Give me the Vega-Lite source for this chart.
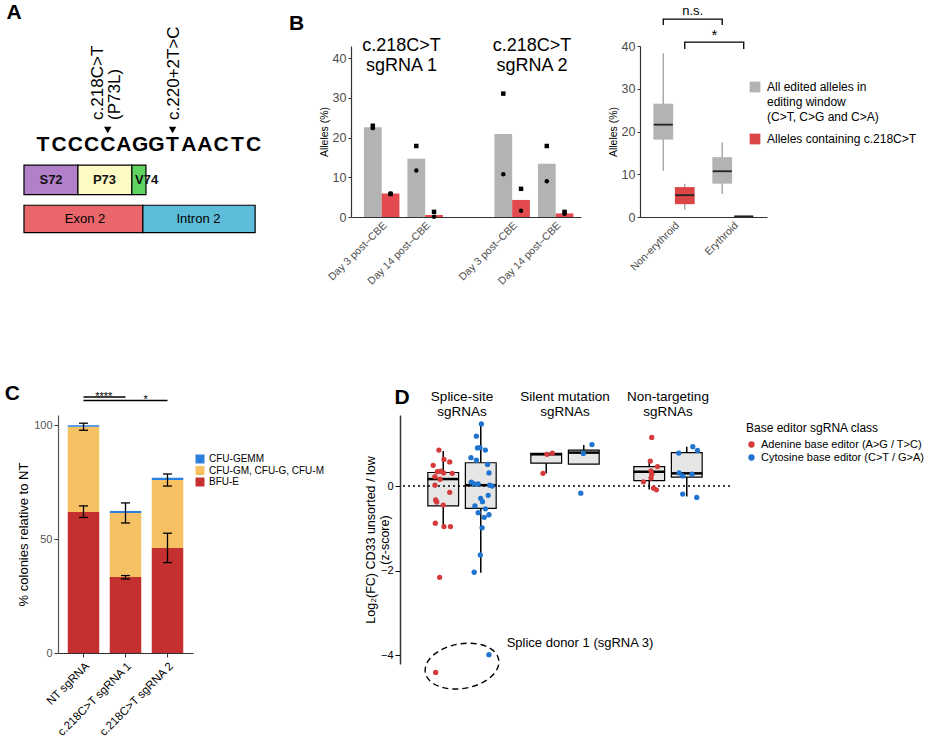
{
  "$schema": "https://vega.github.io/schema/vega-lite/v6.json",
  "background": "white",
  "padding": {"left": 4, "top": 2, "right": 0, "bottom": 0},
  "config": {
    "font": "Liberation Sans",
    "view": {"stroke": null},
    "title": {"fontSize": 21, "fontWeight": "bold", "anchor": "start", "color": "black", "frame": "bounds"},
    "axis": {"grid": false}
  },
  "spacing": 96,
  "resolve": {
    "scale": {"color": "independent", "fill": "independent", "stroke": "independent", "shape": "independent", "xOffset": "independent", "x": "independent", "y": "independent"},
    "legend": {"color": "independent", "fill": "independent", "stroke": "independent", "shape": "independent"}
  },
  "vconcat": [
    {
      "spacing": 27,
      "resolve": {
        "scale": {"color": "independent", "fill": "independent", "stroke": "independent", "shape": "independent", "xOffset": "independent", "x": "independent", "y": "independent"},
        "legend": {"color": "independent", "fill": "independent", "stroke": "independent", "shape": "independent"}
      },
      "hconcat": [
        {
          "title": {"text": "A", "dx": -17, "offset": 3},
          "width": 202,
          "height": 192,
          "layer": [
            {
              "data": {"values": [
                {"element": "Exon 2", "start": -0.17, "end": 7.17, "labelPos": 3.6},
                {"element": "Intron 2", "start": 7.17, "end": 14.1, "labelPos": 10.6}
              ]},
              "layer": [
                {
                  "mark": {"type": "rect", "stroke": "black", "strokeWidth": 1.2},
                  "encoding": {
                    "x": {"field": "start", "type": "quantitative", "scale": {"domain": [1.93, 14.4], "nice": false, "zero": false}, "axis": null},
                    "x2": {"field": "end"},
                    "y": {"datum": 0, "type": "quantitative", "scale": {"domain": [-0.2, 6.84], "nice": false, "zero": false}, "axis": null},
                    "y2": {"datum": 1},
                    "fill": {"field": "element", "type": "nominal", "scale": {"domain": ["S72", "P73", "V74", "Exon 2", "Intron 2"], "range": ["#b27fc9", "#fdfbc3", "#5fd35f", "#e9676b", "#5dbdd8"]}, "legend": null}
                  }
                },
                {
                  "mark": {"type": "text", "fontSize": 13, "color": "black"},
                  "encoding": {
                    "x": {"field": "labelPos", "type": "quantitative"},
                    "y": {"datum": 0.5, "type": "quantitative"},
                    "text": {"field": "element"}
                  }
                }
              ]
            },
            {
              "data": {"values": [
                {"element": "S72", "start": -0.17, "end": 3.16, "labelPos": 1.5},
                {"element": "P73", "start": 3.16, "end": 6.49, "labelPos": 4.8},
                {"element": "V74", "start": 6.49, "end": 7.36, "labelPos": 7.4}
              ]},
              "layer": [
                {
                  "mark": {"type": "rect", "stroke": "black", "strokeWidth": 1.2},
                  "encoding": {
                    "x": {"field": "start", "type": "quantitative"},
                    "x2": {"field": "end"},
                    "y": {"datum": 1.39, "type": "quantitative"},
                    "y2": {"datum": 2.47},
                    "fill": {"field": "element", "type": "nominal", "legend": null}
                  }
                },
                {
                  "mark": {"type": "text", "fontSize": 13, "fontWeight": "bold", "color": "#111111"},
                  "encoding": {
                    "x": {"field": "labelPos", "type": "quantitative"},
                    "y": {"datum": 1.93, "type": "quantitative"},
                    "text": {"field": "element"}
                  }
                }
              ]
            },
            {
              "data": {"values": [
                {"pos": 1, "base": "T"}, {"pos": 2, "base": "C"}, {"pos": 3, "base": "C"}, {"pos": 4, "base": "C"},
                {"pos": 5, "base": "C"}, {"pos": 6, "base": "A"}, {"pos": 7, "base": "G"}, {"pos": 8, "base": "G"},
                {"pos": 9, "base": "T"}, {"pos": 10, "base": "A"}, {"pos": 11, "base": "A"}, {"pos": 12, "base": "C"},
                {"pos": 13, "base": "T"}, {"pos": 14, "base": "C"}
              ]},
              "mark": {"type": "text", "fontSize": 21, "fontWeight": "bold", "color": "black"},
              "encoding": {
                "x": {"field": "pos", "type": "quantitative"},
                "y": {"datum": 3.21, "type": "quantitative"},
                "text": {"field": "base"}
              }
            },
            {
              "data": {"values": [{"pos": 5, "site": "c.218"}, {"pos": 9, "site": "c.220+2"}]},
              "mark": {"type": "point", "shape": "triangle-down", "filled": true, "color": "black", "size": 55, "opacity": 1},
              "encoding": {
                "x": {"field": "pos", "type": "quantitative"},
                "y": {"datum": 3.76, "type": "quantitative"}
              }
            },
            {
              "data": {"values": [
                {"labelPos": 4.4, "variant": "c.218C>T"},
                {"labelPos": 5.45, "variant": "(P73L)"},
                {"labelPos": 9.1, "variant": "c.220+2T>C"}
              ]},
              "mark": {"type": "text", "fontSize": 17, "angle": 270, "align": "left", "baseline": "middle", "color": "black"},
              "encoding": {
                "x": {"field": "labelPos", "type": "quantitative"},
                "y": {"datum": 4.13, "type": "quantitative"},
                "text": {"field": "variant"}
              }
            }
          ]
        },
        {
          "title": {"text": "B", "dx": -30, "offset": 3},
          "width": 230,
          "height": 171,
          "layer": [
            {
              "data": {"values": [
                {"sample": "sg1 Day 3", "type": "All edited alleles in editing window (C>T, C>G and C>A)", "value": 22.6},
                {"sample": "sg1 Day 3", "type": "Alleles containing c.218C>T", "value": 5.9},
                {"sample": "sg1 Day 14", "type": "All edited alleles in editing window (C>T, C>G and C>A)", "value": 14.7},
                {"sample": "sg1 Day 14", "type": "Alleles containing c.218C>T", "value": 0.5},
                {"sample": "sg2 Day 3", "type": "All edited alleles in editing window (C>T, C>G and C>A)", "value": 20.9},
                {"sample": "sg2 Day 3", "type": "Alleles containing c.218C>T", "value": 4.3},
                {"sample": "sg2 Day 14", "type": "All edited alleles in editing window (C>T, C>G and C>A)", "value": 13.4},
                {"sample": "sg2 Day 14", "type": "Alleles containing c.218C>T", "value": 0.9}
              ]},
              "mark": {"type": "bar"},
              "encoding": {
                "x": {
                  "field": "sample", "type": "nominal",
                  "scale": {"domain": ["sg1 Day 3", "sg1 Day 14", "gap", "sg2 Day 3", "sg2 Day 14"], "paddingInner": 0.184, "paddingOuter": 0.236, "align": 0.63},
                  "axis": {"title": null, "ticks": false, "labelAngle": -45, "labelFontSize": 10.5, "labelColor": "#4d4d4d", "labelPadding": 3, "domainColor": "#333333", "domainWidth": 1.2, "labelExpr": "datum.value == 'gap' ? '' : slice(datum.value, 4) + ' post–CBE'"}
                },
                "xOffset": {"field": "type", "type": "nominal", "scale": {"domain": ["All edited alleles in editing window (C>T, C>G and C>A)", "Alleles containing c.218C>T"], "paddingInner": 0, "paddingOuter": 0}},
                "y": {
                  "field": "value", "type": "quantitative", "scale": {"domain": [0, 43.1], "nice": false},
                  "axis": {"values": [0, 10, 20, 30, 40], "title": "Alleles (%)", "titleFontSize": 10.5, "titleFontWeight": "normal", "titleColor": "black", "labelFontSize": 12.5, "labelColor": "#4d4d4d", "tickSize": 3, "tickColor": "#333333", "domainColor": "#333333", "domainWidth": 1.2, "titlePadding": 3, "labelPadding": 2}
                },
                "color": {"field": "type", "type": "nominal", "scale": {"domain": ["All edited alleles in editing window (C>T, C>G and C>A)", "Alleles containing c.218C>T"], "range": ["#b3b3b3", "#e24a4f"]}, "legend": null}
              }
            },
            {
              "data": {"values": [
                {"sample": "sg1 Day 3", "type": "All edited alleles in editing window (C>T, C>G and C>A)", "donor": "Donor 1", "value": 23.0},
                {"sample": "sg1 Day 3", "type": "All edited alleles in editing window (C>T, C>G and C>A)", "donor": "Donor 2", "value": 22.4},
                {"sample": "sg1 Day 3", "type": "Alleles containing c.218C>T", "donor": "Donor 1", "value": 5.8},
                {"sample": "sg1 Day 3", "type": "Alleles containing c.218C>T", "donor": "Donor 2", "value": 5.9},
                {"sample": "sg1 Day 14", "type": "All edited alleles in editing window (C>T, C>G and C>A)", "donor": "Donor 1", "value": 17.9},
                {"sample": "sg1 Day 14", "type": "All edited alleles in editing window (C>T, C>G and C>A)", "donor": "Donor 2", "value": 11.7},
                {"sample": "sg1 Day 14", "type": "Alleles containing c.218C>T", "donor": "Donor 1", "value": 1.3},
                {"sample": "sg1 Day 14", "type": "Alleles containing c.218C>T", "donor": "Donor 2", "value": 0.05},
                {"sample": "sg2 Day 3", "type": "All edited alleles in editing window (C>T, C>G and C>A)", "donor": "Donor 1", "value": 31.1},
                {"sample": "sg2 Day 3", "type": "All edited alleles in editing window (C>T, C>G and C>A)", "donor": "Donor 2", "value": 10.8},
                {"sample": "sg2 Day 3", "type": "Alleles containing c.218C>T", "donor": "Donor 1", "value": 7.1},
                {"sample": "sg2 Day 3", "type": "Alleles containing c.218C>T", "donor": "Donor 2", "value": 1.6},
                {"sample": "sg2 Day 14", "type": "All edited alleles in editing window (C>T, C>G and C>A)", "donor": "Donor 1", "value": 17.9},
                {"sample": "sg2 Day 14", "type": "All edited alleles in editing window (C>T, C>G and C>A)", "donor": "Donor 2", "value": 9.0},
                {"sample": "sg2 Day 14", "type": "Alleles containing c.218C>T", "donor": "Donor 1", "value": 1.3},
                {"sample": "sg2 Day 14", "type": "Alleles containing c.218C>T", "donor": "Donor 2", "value": 0.8}
              ]},
              "mark": {"type": "point", "filled": true, "color": "black", "size": 20, "opacity": 1},
              "encoding": {
                "x": {"field": "sample", "type": "nominal"},
                "xOffset": {"field": "type", "type": "nominal"},
                "y": {"field": "value", "type": "quantitative"},
                "shape": {"field": "donor", "type": "nominal", "scale": {"domain": ["Donor 1", "Donor 2"], "range": ["square", "circle"]}, "legend": null}
              }
            },
            {
              "data": {"values": [
                {"sample": "sg1 Day 14", "label": "c.218C>T\nsgRNA 1"},
                {"sample": "sg2 Day 14", "label": "c.218C>T\nsgRNA 2"}
              ]},
              "mark": {"type": "text", "fontSize": 18, "lineBreak": "\n", "lineHeight": 20, "baseline": "middle", "align": "center", "dx": -6, "color": "black"},
              "encoding": {
                "x": {"field": "sample", "type": "nominal", "bandPosition": 0},
                "y": {"datum": 43.2, "type": "quantitative"},
                "text": {"field": "label"}
              }
            }
          ]
        },
        {
          "width": 127,
          "height": 171,
          "layer": [
            {
              "data": {"values": [
                {"group": "Non-erythroid", "type": "All edited alleles in editing window (C>T, C>G and C>A)", "min": 10.8, "q1": 18.1, "median": 21.6, "q3": 26.5, "max": 38.3},
                {"group": "Non-erythroid", "type": "Alleles containing c.218C>T", "min": 1.7, "q1": 3.0, "median": 5.1, "q3": 7.0, "max": 7.8},
                {"group": "Erythroid", "type": "All edited alleles in editing window (C>T, C>G and C>A)", "min": 5.4, "q1": 7.8, "median": 10.7, "q3": 14.0, "max": 17.4},
                {"group": "Erythroid", "type": "Alleles containing c.218C>T", "min": 0.05, "q1": 0.1, "median": 0.15, "q3": 0.25, "max": 0.3}
              ]},
              "layer": [
                {
                  "mark": {"type": "rule", "strokeWidth": 1.5, "color": "#a9a9a9"},
                  "encoding": {
                    "x": {
                      "field": "group", "type": "nominal",
                      "scale": {"domain": ["Non-erythroid", "Erythroid"], "paddingInner": 0.3, "paddingOuter": 0.227},
                      "axis": {"title": null, "ticks": false, "labelAngle": -45, "labelFontSize": 10.5, "labelColor": "#4d4d4d", "labelPadding": 3, "domainColor": "#333333", "domainWidth": 1.2}
                    },
                    "xOffset": {"field": "type", "type": "nominal", "scale": {"domain": ["All edited alleles in editing window (C>T, C>G and C>A)", "Alleles containing c.218C>T"], "paddingInner": 0.08, "paddingOuter": 0}},
                    "y": {
                      "field": "min", "type": "quantitative", "scale": {"domain": [0, 40], "nice": false},
                      "axis": {"values": [0, 10, 20, 30, 40], "title": "Alleles (%)", "titleFontSize": 10.5, "titleFontWeight": "normal", "titleColor": "black", "labelFontSize": 12.5, "labelColor": "#4d4d4d", "tickSize": 3, "tickColor": "#333333", "domainColor": "#333333", "domainWidth": 1.2, "titlePadding": 3, "labelPadding": 2}
                    },
                    "y2": {"field": "max"}
                  }
                },
                {
                  "mark": {"type": "bar"},
                  "encoding": {
                    "x": {"field": "group", "type": "nominal"},
                    "xOffset": {"field": "type", "type": "nominal"},
                    "y": {"field": "q1", "type": "quantitative"},
                    "y2": {"field": "q3"},
                    "fill": {
                      "field": "type", "type": "nominal",
                      "scale": {"domain": ["All edited alleles in editing window (C>T, C>G and C>A)", "Alleles containing c.218C>T"], "range": ["#b3b3b3", "#dc4545"]},
                      "legend": {
                        "title": null, "orient": "none", "legendX": 109, "legendY": 35,
                        "symbolType": "square", "symbolSize": 115, "symbolStrokeWidth": 0,
                        "labelFontSize": 12, "labelColor": "black", "labelLimit": 400, "labelBaseline": "middle", "labelOffset": 6, "rowPadding": 10,
                        "labelExpr": "datum.label == 'Alleles containing c.218C>T' ? datum.label : ['All edited alleles in', 'editing window', '(C>T, C>G and C>A)']",
                        "encode": {"labels": {"update": {"lineHeight": {"value": 15}}}}
                      }
                    }
                  }
                },
                {
                  "mark": {"type": "tick", "color": "#222222", "thickness": 1.8, "size": 19, "opacity": 1},
                  "encoding": {
                    "x": {"field": "group", "type": "nominal"},
                    "xOffset": {"field": "type", "type": "nominal"},
                    "y": {"field": "median", "type": "quantitative"}
                  }
                }
              ]
            },
            {
              "data": {"values": [
                {"bracket": "ns", "group": "Non-erythroid", "type": "All edited alleles in editing window (C>T, C>G and C>A)", "level": 44.9, "step": 1},
                {"bracket": "ns", "group": "Non-erythroid", "type": "All edited alleles in editing window (C>T, C>G and C>A)", "level": 46.3, "step": 2},
                {"bracket": "ns", "group": "Erythroid", "type": "All edited alleles in editing window (C>T, C>G and C>A)", "level": 46.3, "step": 3},
                {"bracket": "ns", "group": "Erythroid", "type": "All edited alleles in editing window (C>T, C>G and C>A)", "level": 44.9, "step": 4},
                {"bracket": "star", "group": "Non-erythroid", "type": "Alleles containing c.218C>T", "level": 39.3, "step": 1},
                {"bracket": "star", "group": "Non-erythroid", "type": "Alleles containing c.218C>T", "level": 40.9, "step": 2},
                {"bracket": "star", "group": "Erythroid", "type": "Alleles containing c.218C>T", "level": 40.9, "step": 3},
                {"bracket": "star", "group": "Erythroid", "type": "Alleles containing c.218C>T", "level": 39.3, "step": 4}
              ]},
              "mark": {"type": "line", "color": "black", "strokeWidth": 1.3},
              "encoding": {
                "x": {"field": "group", "type": "nominal"},
                "xOffset": {"field": "type", "type": "nominal"},
                "y": {"field": "level", "type": "quantitative"},
                "detail": {"field": "bracket"},
                "order": {"field": "step", "type": "quantitative"}
              }
            },
            {
              "data": {"values": [{"group": "Non-erythroid", "level": 48.1, "label": "n.s."}]},
              "mark": {"type": "text", "fontSize": 13, "color": "black", "baseline": "middle", "dx": -2},
              "encoding": {
                "x": {"field": "group", "type": "nominal", "bandPosition": 1},
                "y": {"field": "level", "type": "quantitative"},
                "text": {"field": "label"}
              }
            },
            {
              "data": {"values": [{"group": "Erythroid", "level": 42.5, "label": "*"}]},
              "mark": {"type": "text", "fontSize": 15, "color": "black", "baseline": "middle", "dx": 2},
              "encoding": {
                "x": {"field": "group", "type": "nominal", "bandPosition": 0},
                "y": {"field": "level", "type": "quantitative"},
                "text": {"field": "label"}
              }
            }
          ]
        }
      ]
    },
    {
      "spacing": 40,
      "resolve": {
        "scale": {"color": "independent", "fill": "independent", "stroke": "independent", "shape": "independent", "xOffset": "independent", "x": "independent", "y": "independent"},
        "legend": {"color": "independent", "fill": "independent", "stroke": "independent", "shape": "independent"}
      },
      "hconcat": [
        {
          "title": {"text": "C", "dx": -13, "offset": -13},
          "width": 135,
          "height": 238,
          "layer": [
            {
              "data": {"values": [
                {"sample": "NT sgRNA", "colony": "BFU-E", "rank": 1, "value": 61.9},
                {"sample": "NT sgRNA", "colony": "CFU-GM, CFU-G, CFU-M", "rank": 2, "value": 37.4},
                {"sample": "NT sgRNA", "colony": "CFU-GEMM", "rank": 3, "value": 0.7},
                {"sample": "c.218C>T sgRNA 1", "colony": "BFU-E", "rank": 1, "value": 33.4},
                {"sample": "c.218C>T sgRNA 1", "colony": "CFU-GM, CFU-G, CFU-M", "rank": 2, "value": 28.1},
                {"sample": "c.218C>T sgRNA 1", "colony": "CFU-GEMM", "rank": 3, "value": 0.9},
                {"sample": "c.218C>T sgRNA 2", "colony": "BFU-E", "rank": 1, "value": 46.1},
                {"sample": "c.218C>T sgRNA 2", "colony": "CFU-GM, CFU-G, CFU-M", "rank": 2, "value": 29.9},
                {"sample": "c.218C>T sgRNA 2", "colony": "CFU-GEMM", "rank": 3, "value": 0.9}
              ]},
              "mark": {"type": "bar"},
              "encoding": {
                "x": {
                  "field": "sample", "type": "nominal",
                  "scale": {"domain": ["NT sgRNA", "c.218C>T sgRNA 1", "c.218C>T sgRNA 2"], "paddingInner": 0.25, "paddingOuter": 0.232},
                  "axis": {"title": null, "labelAngle": -45, "labelFontSize": 11.5, "labelColor": "black", "tickSize": 4, "tickColor": "#333333", "domainColor": "#333333", "domainWidth": 1.2, "labelPadding": 3, "labelLimit": 300}
                },
                "y": {
                  "field": "value", "type": "quantitative", "stack": "zero", "scale": {"domain": [0, 104.5], "nice": false},
                  "axis": {"values": [0, 50, 100], "title": "% colonies relative to NT", "titleFontSize": 13, "titleFontWeight": "normal", "titleColor": "black", "labelFontSize": 11, "labelColor": "#555555", "tickSize": 4, "tickColor": "#333333", "domainColor": "#555555", "domainWidth": 1.2, "titlePadding": 3, "labelPadding": 2}
                },
                "color": {
                  "field": "colony", "type": "nominal",
                  "scale": {"domain": ["CFU-GEMM", "CFU-GM, CFU-G, CFU-M", "BFU-E"], "range": ["#2b7fe0", "#f6c163", "#c3302f"]},
                  "legend": {"title": null, "orient": "none", "legendX": 137, "legendY": 39, "symbolType": "square", "symbolSize": 80, "symbolStrokeWidth": 0, "labelFontSize": 10, "labelColor": "black", "rowPadding": 1.5, "labelLimit": 300}
                },
                "order": {"field": "rank", "type": "quantitative"}
              }
            },
            {
              "data": {"values": [
                {"sample": "NT sgRNA", "low": 97.8, "high": 100.9},
                {"sample": "NT sgRNA", "low": 59.5, "high": 64.6},
                {"sample": "c.218C>T sgRNA 1", "low": 57.1, "high": 65.9},
                {"sample": "c.218C>T sgRNA 1", "low": 32.5, "high": 34.0},
                {"sample": "c.218C>T sgRNA 2", "low": 73.3, "high": 78.6},
                {"sample": "c.218C>T sgRNA 2", "low": 39.7, "high": 52.6}
              ]},
              "layer": [
                {
                  "mark": {"type": "rule", "color": "black", "strokeWidth": 1.3},
                  "encoding": {
                    "x": {"field": "sample", "type": "nominal"},
                    "y": {"field": "low", "type": "quantitative"},
                    "y2": {"field": "high"}
                  }
                },
                {
                  "mark": {"type": "tick", "color": "black", "thickness": 1.3, "size": 9, "opacity": 1},
                  "encoding": {
                    "x": {"field": "sample", "type": "nominal"},
                    "y": {"field": "low", "type": "quantitative"}
                  }
                },
                {
                  "mark": {"type": "tick", "color": "black", "thickness": 1.3, "size": 9, "opacity": 1},
                  "encoding": {
                    "x": {"field": "sample", "type": "nominal"},
                    "y": {"field": "high", "type": "quantitative"}
                  }
                }
              ]
            },
            {
              "data": {"values": [
                {"from": "NT sgRNA", "to": "c.218C>T sgRNA 1", "labelAt": "c.218C>T sgRNA 1", "level": 112.4, "label": "****"},
                {"from": "NT sgRNA", "to": "c.218C>T sgRNA 2", "labelAt": "c.218C>T sgRNA 2", "level": 110.9, "label": "*"}
              ]},
              "layer": [
                {
                  "mark": {"type": "rule", "color": "black", "strokeWidth": 1.5},
                  "encoding": {
                    "x": {"field": "from", "type": "nominal"},
                    "x2": {"field": "to"},
                    "y": {"field": "level", "type": "quantitative"}
                  }
                },
                {
                  "mark": {"type": "text", "fontSize": 11, "baseline": "alphabetic", "dy": 3, "dx": -6, "color": "black"},
                  "encoding": {
                    "x": {"field": "labelAt", "type": "nominal", "bandPosition": 0},
                    "y": {"field": "level", "type": "quantitative"},
                    "text": {"field": "label"}
                  }
                }
              ]
            }
          ]
        },
        {
          "title": {"text": "D", "dx": 30, "offset": -19},
          "width": 330,
          "height": 249,
          "resolve": {"scale": {"xOffset": "independent"}},
          "layer": [
            {
              "data": {"values": [
                {"group": "Splice-site", "editor": "Adenine base editor (A>G / T>C)", "min": -0.96, "q1": -0.47, "median": 0.165, "q3": 0.32, "max": 0.83},
                {"group": "Splice-site", "editor": "Cytosine base editor (C>T / G>A)", "min": -2.05, "q1": -0.53, "median": 0.02, "q3": 0.55, "max": 1.48},
                {"group": "Silent mutation", "editor": "Adenine base editor (A>G / T>C)", "min": 0.30, "q1": 0.54, "median": 0.75, "q3": 0.77, "max": 0.78},
                {"group": "Silent mutation", "editor": "Cytosine base editor (C>T / G>A)", "min": 0.52, "q1": 0.52, "median": 0.79, "q3": 0.85, "max": 0.97},
                {"group": "Non-targeting", "editor": "Adenine base editor (A>G / T>C)", "min": -0.08, "q1": 0.13, "median": 0.34, "q3": 0.46, "max": 0.62},
                {"group": "Non-targeting", "editor": "Cytosine base editor (C>T / G>A)", "min": -0.25, "q1": 0.21, "median": 0.30, "q3": 0.79, "max": 0.93}
              ]},
              "layer": [
                {
                  "mark": {"type": "rule", "color": "black", "strokeWidth": 1.5},
                  "encoding": {
                    "x": {
                      "field": "group", "type": "nominal",
                      "scale": {"domain": ["Splice-site", "Silent mutation", "Non-targeting"], "paddingInner": 0.3, "paddingOuter": 0.252},
                      "axis": {"orient": "top", "domain": false, "ticks": false, "title": null, "labelAngle": 0, "labelFontSize": 13.5, "labelColor": "black", "labelPadding": 12, "labelLineHeight": 15,
                        "labelExpr": "datum.value == 'Splice-site' ? ['Splice-site', 'sgRNAs'] : datum.value == 'Silent mutation' ? ['Silent mutation', 'sgRNAs'] : ['Non-targeting', 'sgRNAs']"}
                    },
                    "xOffset": {"field": "editor", "type": "nominal", "scale": {"domain": ["Adenine base editor (A>G / T>C)", "Cytosine base editor (C>T / G>A)"], "paddingInner": 0.18, "paddingOuter": 0.05}},
                    "y": {
                      "field": "min", "type": "quantitative", "scale": {"domain": [-4.21, 1.68], "nice": false, "zero": false},
                      "axis": {"values": [0, -2, -4], "format": "d", "title": ["Log₂(FC) CD33 unsorted / low", "(z-score)"], "titleFontSize": 12.5, "titleFontWeight": "normal", "titleColor": "black", "titleLineHeight": 14, "labelFontSize": 11, "labelColor": "black", "tickSize": 5, "tickColor": "black", "domainColor": "#333333", "domainWidth": 1.5, "titlePadding": -11, "labelPadding": 2}
                    },
                    "y2": {"field": "max"}
                  }
                },
                {
                  "mark": {"type": "bar", "fill": "#e6e6e6", "stroke": "black", "strokeWidth": 1.2},
                  "encoding": {
                    "x": {"field": "group", "type": "nominal"},
                    "xOffset": {"field": "editor", "type": "nominal"},
                    "y": {"field": "q1", "type": "quantitative"},
                    "y2": {"field": "q3"}
                  }
                },
                {
                  "mark": {"type": "tick", "color": "black", "thickness": 2.5, "size": 31, "opacity": 1},
                  "encoding": {
                    "x": {"field": "group", "type": "nominal"},
                    "xOffset": {"field": "editor", "type": "nominal"},
                    "y": {"field": "median", "type": "quantitative"}
                  }
                }
              ]
            },
            {
              "data": {"values": [{"reference": 0}]},
              "mark": {"type": "rule", "strokeDash": [2, 3], "strokeWidth": 1.5, "color": "black"},
              "encoding": {"y": {"field": "reference", "type": "quantitative"}}
            },
            {
              "data": {"values": [
                {"group": "Splice-site", "editor": "Adenine base editor (A>G / T>C)", "jx": -0.64, "value": 0.85},
                {"group": "Splice-site", "editor": "Adenine base editor (A>G / T>C)", "jx": -0.80, "value": 0.49},
                {"group": "Splice-site", "editor": "Adenine base editor (A>G / T>C)", "jx": -0.50, "value": 0.63},
                {"group": "Splice-site", "editor": "Adenine base editor (A>G / T>C)", "jx": -0.34, "value": 0.57},
                {"group": "Splice-site", "editor": "Adenine base editor (A>G / T>C)", "jx": -0.68, "value": 0.34},
                {"group": "Splice-site", "editor": "Adenine base editor (A>G / T>C)", "jx": -0.59, "value": 0.35},
                {"group": "Splice-site", "editor": "Adenine base editor (A>G / T>C)", "jx": -0.51, "value": 0.31},
                {"group": "Splice-site", "editor": "Adenine base editor (A>G / T>C)", "jx": -0.27, "value": 0.30},
                {"group": "Splice-site", "editor": "Adenine base editor (A>G / T>C)", "jx": -0.75, "value": 0.22},
                {"group": "Splice-site", "editor": "Adenine base editor (A>G / T>C)", "jx": -0.61, "value": 0.16},
                {"group": "Splice-site", "editor": "Adenine base editor (A>G / T>C)", "jx": -0.75, "value": 0.02},
                {"group": "Splice-site", "editor": "Adenine base editor (A>G / T>C)", "jx": -0.34, "value": -0.15},
                {"group": "Splice-site", "editor": "Adenine base editor (A>G / T>C)", "jx": -0.73, "value": -0.33},
                {"group": "Splice-site", "editor": "Adenine base editor (A>G / T>C)", "jx": -0.70, "value": -0.38},
                {"group": "Splice-site", "editor": "Adenine base editor (A>G / T>C)", "jx": -0.52, "value": -0.45},
                {"group": "Splice-site", "editor": "Adenine base editor (A>G / T>C)", "jx": -0.74, "value": -0.88},
                {"group": "Splice-site", "editor": "Adenine base editor (A>G / T>C)", "jx": -0.50, "value": -0.96},
                {"group": "Splice-site", "editor": "Adenine base editor (A>G / T>C)", "jx": -0.32, "value": -0.96},
                {"group": "Splice-site", "editor": "Adenine base editor (A>G / T>C)", "jx": -0.62, "value": -2.16},
                {"group": "Splice-site", "editor": "Adenine base editor (A>G / T>C)", "jx": -0.73, "value": -4.41},
                {"group": "Splice-site", "editor": "Cytosine base editor (C>T / G>A)", "jx": 0.54, "value": 1.47},
                {"group": "Splice-site", "editor": "Cytosine base editor (C>T / G>A)", "jx": 0.40, "value": 1.18},
                {"group": "Splice-site", "editor": "Cytosine base editor (C>T / G>A)", "jx": 0.43, "value": 0.90},
                {"group": "Splice-site", "editor": "Cytosine base editor (C>T / G>A)", "jx": 0.50, "value": 0.91},
                {"group": "Splice-site", "editor": "Cytosine base editor (C>T / G>A)", "jx": 0.65, "value": 0.85},
                {"group": "Splice-site", "editor": "Cytosine base editor (C>T / G>A)", "jx": 0.25, "value": 0.67},
                {"group": "Splice-site", "editor": "Cytosine base editor (C>T / G>A)", "jx": 0.40, "value": 0.61},
                {"group": "Splice-site", "editor": "Cytosine base editor (C>T / G>A)", "jx": 0.71, "value": 0.51},
                {"group": "Splice-site", "editor": "Cytosine base editor (C>T / G>A)", "jx": 0.75, "value": 0.31},
                {"group": "Splice-site", "editor": "Cytosine base editor (C>T / G>A)", "jx": 0.26, "value": 0.09},
                {"group": "Splice-site", "editor": "Cytosine base editor (C>T / G>A)", "jx": 0.34, "value": 0.05},
                {"group": "Splice-site", "editor": "Cytosine base editor (C>T / G>A)", "jx": 0.45, "value": 0.05},
                {"group": "Splice-site", "editor": "Cytosine base editor (C>T / G>A)", "jx": 0.77, "value": 0.02},
                {"group": "Splice-site", "editor": "Cytosine base editor (C>T / G>A)", "jx": 0.84, "value": 0.00},
                {"group": "Splice-site", "editor": "Cytosine base editor (C>T / G>A)", "jx": 0.73, "value": -0.22},
                {"group": "Splice-site", "editor": "Cytosine base editor (C>T / G>A)", "jx": 0.52, "value": -0.29},
                {"group": "Splice-site", "editor": "Cytosine base editor (C>T / G>A)", "jx": 0.57, "value": -0.37},
                {"group": "Splice-site", "editor": "Cytosine base editor (C>T / G>A)", "jx": 0.36, "value": -0.47},
                {"group": "Splice-site", "editor": "Cytosine base editor (C>T / G>A)", "jx": 0.65, "value": -0.54},
                {"group": "Splice-site", "editor": "Cytosine base editor (C>T / G>A)", "jx": 0.45, "value": -0.63},
                {"group": "Splice-site", "editor": "Cytosine base editor (C>T / G>A)", "jx": 0.75, "value": -0.68},
                {"group": "Splice-site", "editor": "Cytosine base editor (C>T / G>A)", "jx": 0.62, "value": -0.74},
                {"group": "Splice-site", "editor": "Cytosine base editor (C>T / G>A)", "jx": 0.56, "value": -0.99},
                {"group": "Splice-site", "editor": "Cytosine base editor (C>T / G>A)", "jx": 0.51, "value": -1.63},
                {"group": "Splice-site", "editor": "Cytosine base editor (C>T / G>A)", "jx": 0.34, "value": -2.04},
                {"group": "Splice-site", "editor": "Cytosine base editor (C>T / G>A)", "jx": 0.75, "value": -3.99},
                {"group": "Silent mutation", "editor": "Adenine base editor (A>G / T>C)", "jx": -0.61, "value": 0.30},
                {"group": "Silent mutation", "editor": "Adenine base editor (A>G / T>C)", "jx": -0.50, "value": 0.75},
                {"group": "Silent mutation", "editor": "Adenine base editor (A>G / T>C)", "jx": -0.35, "value": 0.78},
                {"group": "Silent mutation", "editor": "Cytosine base editor (C>T / G>A)", "jx": 0.44, "value": -0.17},
                {"group": "Silent mutation", "editor": "Cytosine base editor (C>T / G>A)", "jx": 0.51, "value": 0.77},
                {"group": "Silent mutation", "editor": "Cytosine base editor (C>T / G>A)", "jx": 0.75, "value": 0.98},
                {"group": "Non-targeting", "editor": "Adenine base editor (A>G / T>C)", "jx": -0.45, "value": 1.15},
                {"group": "Non-targeting", "editor": "Adenine base editor (A>G / T>C)", "jx": -0.49, "value": 0.59},
                {"group": "Non-targeting", "editor": "Adenine base editor (A>G / T>C)", "jx": -0.29, "value": 0.46},
                {"group": "Non-targeting", "editor": "Adenine base editor (A>G / T>C)", "jx": -0.47, "value": 0.36},
                {"group": "Non-targeting", "editor": "Adenine base editor (A>G / T>C)", "jx": -0.45, "value": 0.28},
                {"group": "Non-targeting", "editor": "Adenine base editor (A>G / T>C)", "jx": -0.47, "value": 0.19},
                {"group": "Non-targeting", "editor": "Adenine base editor (A>G / T>C)", "jx": -0.68, "value": 0.10},
                {"group": "Non-targeting", "editor": "Adenine base editor (A>G / T>C)", "jx": -0.40, "value": -0.05},
                {"group": "Non-targeting", "editor": "Adenine base editor (A>G / T>C)", "jx": -0.32, "value": -0.09},
                {"group": "Non-targeting", "editor": "Cytosine base editor (C>T / G>A)", "jx": 0.30, "value": 0.78},
                {"group": "Non-targeting", "editor": "Cytosine base editor (C>T / G>A)", "jx": 0.69, "value": 0.93},
                {"group": "Non-targeting", "editor": "Cytosine base editor (C>T / G>A)", "jx": 0.82, "value": 0.84},
                {"group": "Non-targeting", "editor": "Cytosine base editor (C>T / G>A)", "jx": 0.31, "value": 0.31},
                {"group": "Non-targeting", "editor": "Cytosine base editor (C>T / G>A)", "jx": 0.41, "value": 0.24},
                {"group": "Non-targeting", "editor": "Cytosine base editor (C>T / G>A)", "jx": 0.67, "value": 0.28},
                {"group": "Non-targeting", "editor": "Cytosine base editor (C>T / G>A)", "jx": 0.41, "value": -0.19},
                {"group": "Non-targeting", "editor": "Cytosine base editor (C>T / G>A)", "jx": 0.80, "value": -0.27}
              ]},
              "mark": {"type": "circle", "size": 28, "opacity": 1},
              "encoding": {
                "x": {"field": "group", "type": "nominal"},
                "xOffset": {"field": "jx", "type": "quantitative", "scale": {"domain": [-1, 1], "range": [0, 72]}},
                "y": {"field": "value", "type": "quantitative"},
                "color": {
                  "field": "editor", "type": "nominal",
                  "scale": {"domain": ["Adenine base editor (A>G / T>C)", "Cytosine base editor (C>T / G>A)"], "range": ["#d63b3b", "#1f74cf"]},
                  "legend": {"title": "Base editor sgRNA class", "orient": "none", "legendX": 346, "legendY": 8, "symbolType": "circle", "symbolSize": 40, "labelFontSize": 11, "titleFontSize": 12, "titleFontWeight": "normal", "titleColor": "black", "labelColor": "black", "rowPadding": 1, "titlePadding": 4, "labelLimit": 300}
                }
              }
            },
            {
              "data": {"values": [{"group": "Splice-site", "value": -4.26}]},
              "mark": {"type": "point", "shape": "M -1 0 A 1 0.6 0 1 1 1 0 A 1 0.6 0 1 1 -1 0 Z", "size": 5550, "filled": false, "color": "black", "strokeWidth": 1.4, "strokeDash": [6, 4], "angle": 350, "opacity": 1},
              "encoding": {
                "x": {"field": "group", "type": "nominal"},
                "y": {"field": "value", "type": "quantitative"}
              }
            },
            {
              "data": {"values": [{"group": "Silent mutation", "value": -3.72, "note": "Splice donor 1 (sgRNA 3)"}]},
              "mark": {"type": "text", "fontSize": 13, "color": "black", "align": "center", "baseline": "middle", "dx": 15},
              "encoding": {
                "x": {"field": "group", "type": "nominal"},
                "y": {"field": "value", "type": "quantitative"},
                "text": {"field": "note"}
              }
            }
          ]
        }
      ]
    }
  ]
}
